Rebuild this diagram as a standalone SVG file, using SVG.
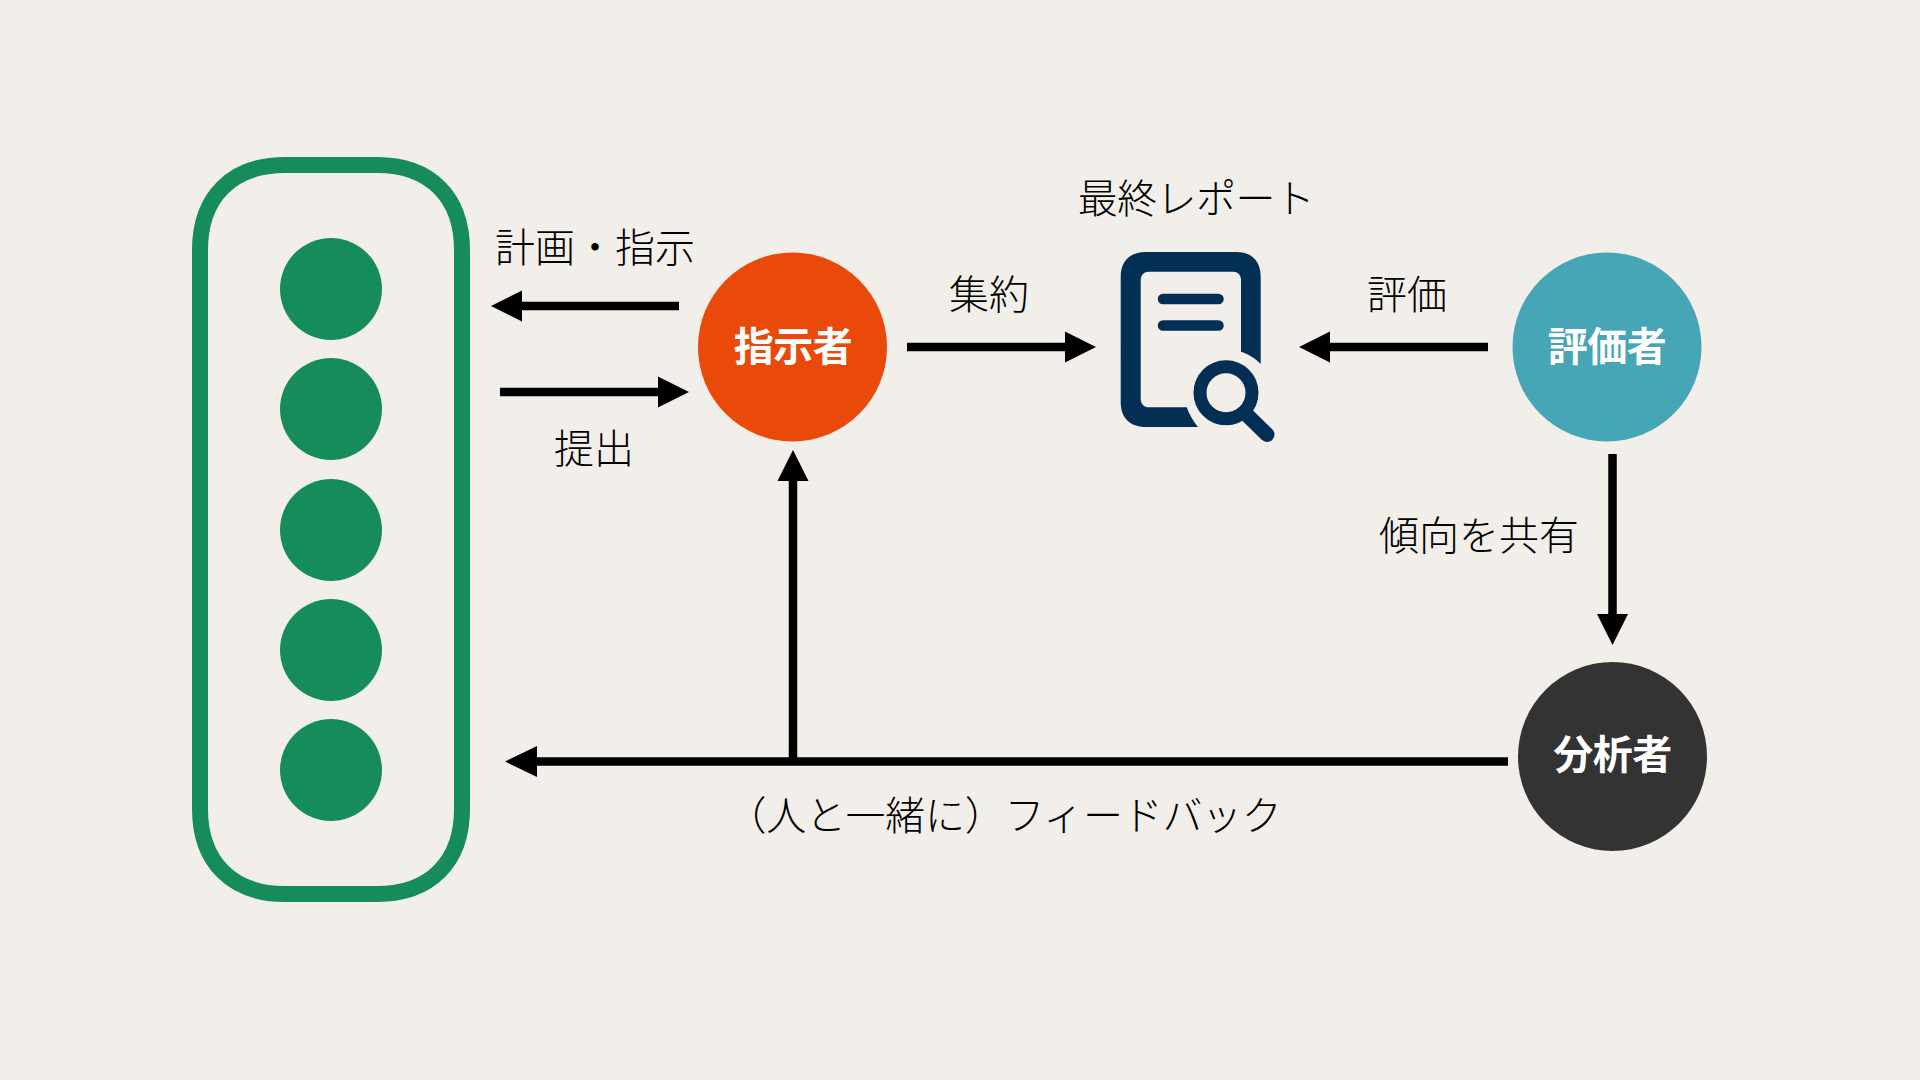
<svg xmlns="http://www.w3.org/2000/svg" width="1920" height="1080" viewBox="0 0 1920 1080">
<style>
text{font-family:"Noto Sans CJK JP","Noto Sans",sans-serif;font-size:40px;text-anchor:middle}
.l{fill:#000;font-weight:300}
.n{fill:#fff;font-weight:700}
.d{fill:#168c5b}
.c{fill:none;stroke:#000;stroke-width:8.5}
.h{fill:#000}
</style>
<rect width="1920" height="1080" fill="#f2efea"/>
<g id="group-box">
<path d="M285 165H377C430 165 462 197 462 250V809C462 862 430 894 377 894H285C232 894 200 862 200 809V250C200 197 232 165 285 165Z" fill="none" stroke="#168c5b" stroke-width="16"/>
<circle class="d" cx="331" cy="289" r="51"/>
<circle class="d" cx="331" cy="409" r="51"/>
<circle class="d" cx="331" cy="530" r="51"/>
<circle class="d" cx="331" cy="650" r="51"/>
<circle class="d" cx="331" cy="770" r="51"/>
</g>
<g id="connectors">
<path class="c" d="M679 306H520"/><path class="h" d="M491 306L522 290.500V321.500Z"/>
<path class="c" d="M500 392H660"/><path class="h" d="M689 392L658 376.500V407.500Z"/>
<path class="c" d="M793 761V478"/><path class="h" d="M793 450L777.500 481H808.500Z"/>
<path class="c" d="M1508 761.500H535"/><path class="h" d="M505 761.500L537 746V777Z"/>
<path class="c" d="M907 347H1067"/><path class="h" d="M1096 347L1065 331.500V362.500Z"/>
<path class="c" d="M1488 347H1327"/><path class="h" d="M1299 347L1330 331.500V362.500Z"/>
<path class="c" d="M1612.500 454V616"/><path class="h" d="M1612.500 645L1597 614H1628Z"/>
</g>
<g id="shijisha"><circle cx="792.500" cy="347" r="94.500" fill="#e94a0a"/><text class="n" x="793" y="361" letter-spacing="-0.500">指示者</text></g>
<g id="hyokasha"><circle cx="1607" cy="347" r="94.500" fill="#46a6b6"/><text class="n" x="1607" y="361" letter-spacing="-0.500">評価者</text></g>
<g id="bunsekisha"><circle cx="1612.500" cy="756.500" r="94.500" fill="#333"/><text class="n" x="1612.500" y="769" letter-spacing="-0.500">分析者</text></g>
<g id="report-icon">
<path fill="#032f55" fill-rule="evenodd" d="M1146 252H1236C1252 252 1260.700 261 1260.700 277V364C1255 358 1249 354.500 1241 351.700V280C1241 275 1238 271.700 1233 271.700H1149C1144 271.700 1140.700 275 1140.700 280V399C1140.700 404 1144 407.300 1149 407.300H1186.700C1189 414 1193 421 1198 427H1146C1130 427 1120.700 418 1120.700 402V277C1120.700 261 1130 252 1146 252Z"/>
<path d="M1163 299H1218.500M1163 325.500H1218.500" fill="none" stroke="#032f55" stroke-width="10.500" stroke-linecap="round"/>
<circle cx="1226" cy="392.700" r="26" fill="none" stroke="#032f55" stroke-width="13"/>
<path d="M1246 414L1267 434.500" fill="none" stroke="#032f55" stroke-width="15" stroke-linecap="round"/>
</g>
<g id="labels">
<text class="l" x="595" y="262">計画・指示</text>
<text class="l" x="594" y="463">提出</text>
<text class="l" x="989" y="309">集約</text>
<text class="l" x="1196" y="213" letter-spacing="-0.600">最終レポート</text>
<text class="l" x="1407" y="309">評価</text>
<text class="l" x="1479" y="550">傾向を共有</text>
<text class="l" x="1004" y="830" letter-spacing="-0.300">（人と一緒に）フィードバック</text>
</g>
</svg>
